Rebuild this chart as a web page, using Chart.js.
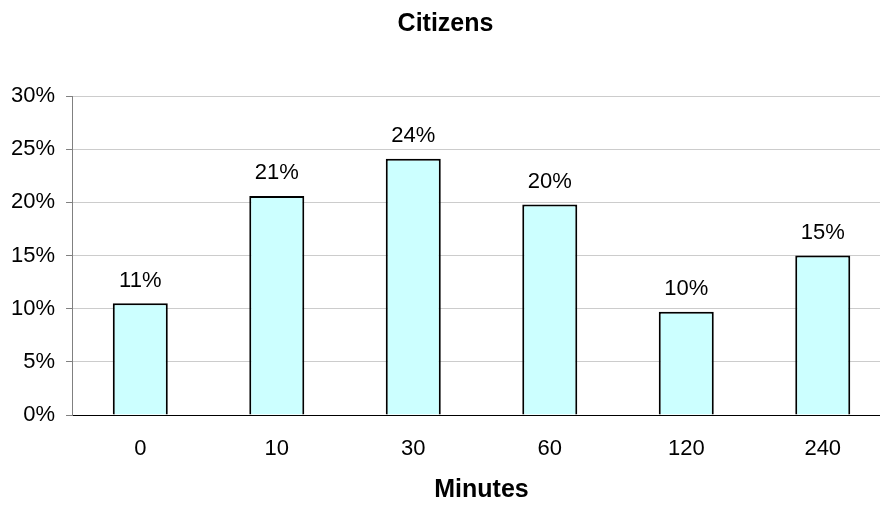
<!DOCTYPE html>
<html>
<head>
<meta charset="utf-8">
<script src="https://cdn.jsdelivr.net/npm/chart.js@4/dist/chart.umd.min.js"></script>
<style>
html,body{margin:0;padding:0;background:#fff;overflow:hidden;}
#wrap{width:898px;height:505px;}
</style>
</head>
<body>
<div id="wrap"><canvas id="c" width="898" height="505"></canvas></div>
<script>
const categories = ['0', '10', '30', '60', '120', '240'];
const shares = [10.5, 20.6, 24.1, 19.8, 9.7, 15.0];
const yTicks = [0, 5, 10, 15, 20, 25, 30];
const chartTitle = 'Citizens';
const xTitle = 'Minutes';

const FONT = "'Liberation Sans', Arial, sans-serif";

const barLabels = {
  id: 'barLabels',
  afterDatasetsDraw(chart) {
    const ctx = chart.ctx;
    const meta = chart.getDatasetMeta(0);
    ctx.save();
    ctx.font = '22px ' + FONT;
    ctx.fillStyle = '#000';
    ctx.textAlign = 'center';
    ctx.textBaseline = 'alphabetic';
    meta.data.forEach((bar, i) => {
      const v = chart.data.datasets[0].data[i];
      ctx.fillText(Math.round(v) + '%', bar.x, bar.y - 16.5);
    });
    ctx.restore();
  }
};

new Chart(document.getElementById('c'), {
  type: 'bar',
  data: {
    labels: categories,
    datasets: [{
      data: shares,
      backgroundColor: '#ccffff',
      borderColor: '#000000',
      borderWidth: 2,
      categoryPercentage: 1,
      barPercentage: 0.403
    }]
  },
  options: {
    responsive: false,
    animation: false,
    devicePixelRatio: 1,
    layout: { padding: { left: 0, right: 7, top: 0, bottom: 0 } },
    plugins: {
      legend: { display: false },
      tooltip: { enabled: false },
      title: {
        display: true,
        text: chartTitle,
        color: '#000',
        font: { family: FONT, size: 25, weight: 'bold', lineHeight: 1.2 },
        padding: { top: 9, bottom: 57 }
      }
    },
    scales: {
      x: {
        offset: true,
        grid: { display: false, drawTicks: false },
        border: { display: true, color: '#000', width: 1 },
        ticks: { color: '#000', font: { family: FONT, size: 22, lineHeight: 1.2 }, padding: 21 },
        title: {
          display: true,
          text: xTitle,
          color: '#000',
          font: { family: FONT, size: 25, weight: 'bold', lineHeight: 1.2 },
          padding: { top: -8.4, bottom: 0 }
        }
      },
      y: {
        min: 0,
        max: 30,
        afterBuildTicks(axis) { axis.ticks = yTicks.map(v => ({ value: v })); },
        grid: { color: '#cccccc', lineWidth: 1, tickLength: 6, tickColor: '#808080', drawTicks: true },
        border: { display: true, color: '#808080', width: 1 },
        ticks: {
          color: '#000',
          font: { family: FONT, size: 22 },
          padding: 11,
          callback: v => v + '%'
        }
      }
    }
  },
  plugins: [barLabels]
});
</script>
</body>
</html>
